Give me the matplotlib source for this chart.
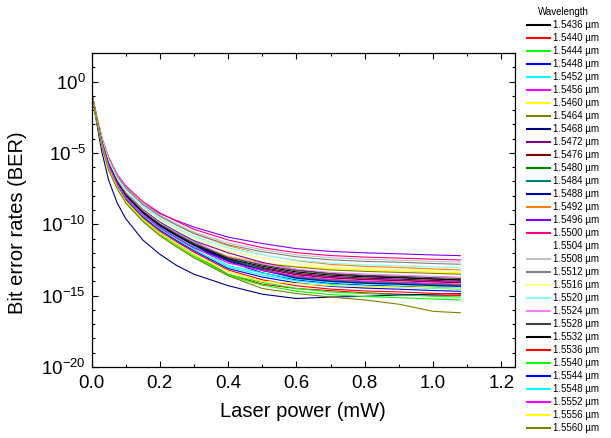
import numpy as np
import matplotlib
matplotlib.use("Agg")
import matplotlib.pyplot as plt
from matplotlib.ticker import FixedLocator, FuncFormatter, MultipleLocator

plt.rcParams["font.family"] = ["Liberation Sans", "DejaVu Sans"]
plt.rcParams["axes.unicode_minus"] = False

power = [0, 0.015, 0.03, 0.05, 0.075, 0.1, 0.15, 0.2, 0.25, 0.3,
         0.4, 0.5, 0.6, 0.7, 0.8, 0.9, 1.0, 1.08]

wavelengths = ["1.5436", "1.5440", "1.5444", "1.5448", "1.5452", "1.5456", "1.5460", "1.5464",
               "1.5468", "1.5472", "1.5476", "1.5480", "1.5484", "1.5488", "1.5492", "1.5496",
               "1.5500", "1.5504", "1.5508", "1.5512", "1.5516", "1.5520", "1.5524", "1.5528",
               "1.5532", "1.5536", "1.5540", "1.5544", "1.5548", "1.5552", "1.5556", "1.5560"]

# Origin default colour cycle
colors = ["#000000", "#ff0000", "#00ff00", "#0000ff", "#00ffff", "#ff00ff", "#ffff00", "#808000",
          "#000080", "#800080", "#800000", "#008000", "#008080", "#0000a0", "#ff8000", "#8000ff",
          "#ff0080", "#ffffff", "#c0c0c0", "#808080", "#ffff80", "#80ffff", "#ff80ff", "#404040",
          "#000000", "#ff0000", "#00ff00", "#0000ff", "#00ffff", "#ff00ff", "#ffff00", "#808000"]

# log10(BER) per wavelength
ber_15436 = [-0.75, -2.6, -4.29, -5.89, -7.15, -8.08, -9.31, -10.24, -10.97, -11.65, -12.53, -13.04, -13.44, -13.66, -13.78, -13.85, -13.94, -14.0]
ber_15440 = [-0.75, -2.67, -4.44, -6.11, -7.4, -8.38, -9.66, -10.64, -11.42, -12.15, -13.5, -14.2, -14.5, -14.65, -14.8, -14.9, -15.0, -15.0]
ber_15444 = [-0.75, -2.67, -4.44, -6.11, -7.4, -8.38, -9.66, -10.64, -11.42, -12.15, -13.52, -14.07, -14.5, -14.74, -14.86, -14.94, -15.04, -15.1]
ber_15448 = [-0.75, -2.58, -4.26, -5.84, -7.1, -8.02, -9.24, -10.16, -10.88, -11.55, -12.6, -13.4, -13.9, -14.15, -14.27, -14.35, -14.44, -14.5]
ber_15452 = [-0.75, -2.58, -4.26, -5.84, -7.1, -8.02, -9.24, -10.16, -10.88, -11.55, -12.89, -13.42, -13.83, -14.05, -14.17, -14.25, -14.34, -14.4]
ber_15456 = [-0.75, -2.57, -4.23, -5.8, -7.05, -7.96, -9.17, -10.08, -10.79, -11.45, -12.57, -13.09, -13.49, -13.71, -13.83, -13.9, -13.99, -14.05]
ber_15460 = [-0.75, -2.55, -4.2, -5.75, -7.0, -7.9, -9.1, -10.0, -10.7, -11.35, -12.2, -12.7, -12.95, -13.1, -13.2, -13.27, -13.34, -13.4]
ber_15464 = [-0.75, -2.57, -4.23, -5.8, -7.05, -7.96, -9.17, -10.08, -10.79, -11.45, -12.3, -12.75, -13.0, -13.2, -13.3, -13.37, -13.44, -13.5]
ber_15468 = [-0.75, -2.9, -4.9, -6.9, -8.5, -9.6, -11.1, -12.1, -12.9, -13.5, -14.3, -14.9, -15.2, -15.1, -15.05, -14.95, -14.9, -14.85]
ber_15472 = [-0.75, -2.52, -4.14, -5.66, -6.9, -7.78, -8.96, -9.84, -10.52, -11.15, -12.0, -12.67, -13.18, -13.46, -13.62, -13.71, -13.82, -13.9]
ber_15476 = [-0.75, -2.55, -4.2, -5.75, -7.0, -7.9, -9.1, -10.0, -10.7, -11.35, -12.45, -13.1, -13.54, -13.76, -13.88, -13.95, -14.04, -14.1]
ber_15480 = [-0.75, -2.54, -4.17, -5.71, -6.95, -7.84, -9.03, -9.92, -10.61, -11.25, -12.5, -13.25, -13.73, -13.96, -14.08, -14.15, -14.24, -14.3]
ber_15484 = [-0.75, -2.53, -4.16, -5.7, -6.93, -7.82, -9.0, -9.9, -10.58, -11.2, -12.4, -13.15, -13.68, -13.9, -14.03, -14.1, -14.19, -14.25]
ber_15488 = [-0.75, -2.57, -4.23, -5.8, -7.05, -7.96, -9.17, -10.08, -10.79, -11.45, -12.55, -13.2, -13.78, -14.0, -14.13, -14.2, -14.29, -14.35]
ber_15492 = [-0.75, -2.45, -3.99, -5.44, -6.65, -7.48, -8.61, -9.44, -10.07, -10.65, -11.5, -12.1, -12.55, -12.81, -12.95, -13.03, -13.13, -13.2]
ber_15496 = [-0.75, -2.43, -3.96, -5.39, -6.6, -7.42, -8.54, -9.25, -9.75, -10.2, -10.9, -11.35, -11.71, -11.9, -12.0, -12.07, -12.15, -12.2]
ber_15500 = [-0.75, -2.4, -3.9, -5.3, -6.5, -7.3, -8.4, -9.2, -9.8, -10.35, -11.1, -11.64, -11.99, -12.19, -12.3, -12.37, -12.45, -12.5]
ber_15504 = [-0.75, -2.46, -4.02, -5.48, -6.7, -7.54, -8.68, -9.52, -10.16, -10.75, -11.62, -12.1, -12.48, -12.68, -12.79, -12.86, -12.94, -13.0]
ber_15508 = [-0.75, -2.43, -3.96, -5.39, -6.6, -7.42, -8.54, -9.36, -9.98, -10.55, -11.31, -11.78, -12.14, -12.34, -12.45, -12.52, -12.6, -12.65]
ber_15512 = [-0.75, -2.45, -3.99, -5.44, -6.65, -7.48, -8.61, -9.44, -10.07, -10.65, -11.44, -11.92, -12.28, -12.49, -12.6, -12.66, -12.75, -12.8]
ber_15516 = [-0.75, -2.49, -4.08, -5.57, -6.8, -7.66, -8.82, -9.68, -10.34, -10.95, -11.89, -12.38, -12.76, -12.98, -13.09, -13.16, -13.24, -13.3]
ber_15520 = [-0.75, -2.48, -4.05, -5.53, -6.75, -7.6, -8.75, -9.6, -10.25, -10.85, -11.65, -12.15, -12.52, -12.72, -12.84, -12.91, -12.99, -13.05]
ber_15524 = [-0.75, -2.54, -4.17, -5.71, -6.95, -7.84, -9.03, -9.92, -10.61, -11.25, -12.26, -12.76, -13.15, -13.37, -13.48, -13.56, -13.64, -13.7]
ber_15528 = [-0.75, -2.55, -4.2, -5.75, -7.0, -7.9, -9.1, -10.0, -10.7, -11.35, -12.34, -12.85, -13.25, -13.46, -13.58, -13.65, -13.74, -13.8]
ber_15532 = [-0.75, -2.57, -4.23, -5.8, -7.05, -7.96, -9.17, -10.08, -10.79, -11.45, -12.43, -12.94, -13.34, -13.56, -13.68, -13.75, -13.84, -13.9]
ber_15536 = [-0.75, -2.64, -4.38, -6.02, -7.3, -8.26, -9.52, -10.48, -11.24, -11.95, -13.2, -13.89, -14.31, -14.54, -14.67, -14.74, -14.84, -14.9]
ber_15540 = [-0.75, -2.69, -4.47, -6.16, -7.45, -8.44, -9.73, -10.72, -11.51, -12.25, -13.6, -14.26, -14.69, -14.93, -15.06, -15.14, -15.24, -15.3]
ber_15544 = [-0.75, -2.63, -4.35, -5.98, -7.25, -8.2, -9.45, -10.4, -11.15, -11.85, -13.1, -13.7, -14.11, -14.35, -14.47, -14.55, -14.64, -14.7]
ber_15548 = [-0.75, -2.61, -4.32, -5.93, -7.2, -8.14, -9.38, -10.32, -11.06, -11.75, -13.0, -13.56, -13.97, -14.2, -14.32, -14.4, -14.49, -14.55]
ber_15552 = [-0.75, -2.6, -4.29, -5.89, -7.15, -8.08, -9.31, -10.24, -10.97, -11.65, -12.71, -13.23, -13.63, -13.86, -13.98, -14.05, -14.14, -14.2]
ber_15556 = [-0.75, -2.67, -4.44, -6.11, -7.4, -8.38, -9.66, -10.64, -11.42, -12.15, -13.3, -14.0, -14.15, -14.3, -14.35, -14.4, -14.45, -14.5]
ber_15560 = [-0.75, -2.7, -4.5, -6.2, -7.5, -8.5, -9.8, -10.8, -11.6, -12.35, -13.6, -14.5, -14.85, -15.1, -15.3, -15.6, -16.1, -16.2]

series = [ber_15436, ber_15440, ber_15444, ber_15448, ber_15452, ber_15456, ber_15460, ber_15464,
          ber_15468, ber_15472, ber_15476, ber_15480, ber_15484, ber_15488, ber_15492, ber_15496,
          ber_15500, ber_15504, ber_15508, ber_15512, ber_15516, ber_15520, ber_15524, ber_15528,
          ber_15532, ber_15536, ber_15540, ber_15544, ber_15548, ber_15552, ber_15556, ber_15560]

fig = plt.figure(figsize=(6.11, 4.38), dpi=100)
ax = fig.add_axes([0.1498, 0.1621, 0.6931, 0.7169])

for wl, col, logber in zip(wavelengths, colors, series):
    ax.plot(power, 10.0 ** np.array(logber), color=col, lw=0.8, label=wl + " \u00b5m")

ax.set_yscale("log")
ax.set_xlim(0, 1.24)
ax.set_ylim(1e-20, 1e2)

ax.xaxis.set_major_locator(MultipleLocator(0.2))
ax.xaxis.set_minor_locator(MultipleLocator(0.1))
ax.xaxis.set_major_formatter(FuncFormatter(lambda v, p: f"{v:.1f}"))
ax.yaxis.set_major_locator(FixedLocator([1e-20, 1e-15, 1e-10, 1e-5, 1e0]))
ax.yaxis.set_minor_locator(FixedLocator([10.0 ** k for k in range(-20, 3)]))
ax.yaxis.set_major_formatter(FuncFormatter(lambda v, p: r"$\mathregular{10^{%d}}$" % round(np.log10(v))))
ax.yaxis.set_minor_formatter(FuncFormatter(lambda v, p: ""))

ax.tick_params(which="both", direction="in", top=True, right=True, width=0.8, labelsize=13.5)
ax.tick_params(axis="x", pad=6)
ax.tick_params(axis="y", pad=4)
ax.tick_params(which="major", length=4.5)
ax.tick_params(which="minor", length=2.5)
for sp in ax.spines.values():
    sp.set_linewidth(0.9)

ax.set_xlabel("Laser power (mW)", fontsize=14.5, labelpad=7)
ax.set_ylabel("Bit error rates (BER)", fontsize=14.5, labelpad=5)
ax.yaxis.set_label_coords(-0.152, 0.46)

leg = fig.legend(loc="upper left", bbox_to_anchor=(527 / 611, 1 - 7 / 438), frameon=False,
                 title="Wavelength", fontsize=7, title_fontsize=7, handlelength=2.4,
                 handletextpad=0.25, labelspacing=0.31, borderaxespad=0, borderpad=0)
for line in leg.get_lines():
    line.set_linewidth(1.5)

fig.savefig("out.png", dpi=100)
